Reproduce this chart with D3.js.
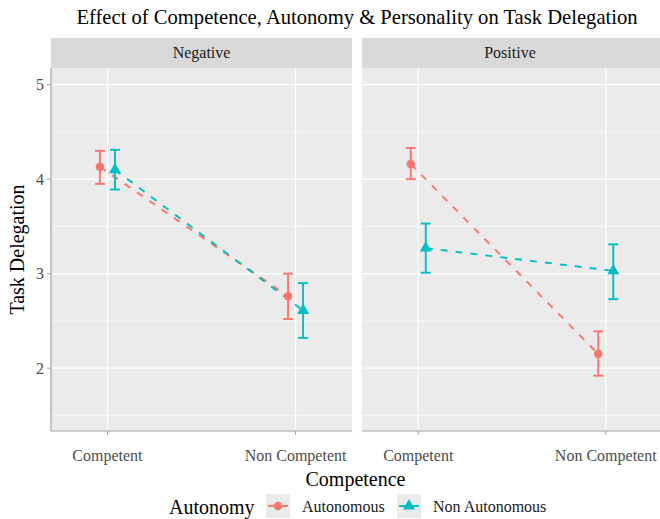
<!doctype html>
<html lang="en">
  <head>
    <meta charset="UTF-8">
    <title>Effect of Competence, Autonomy & Personality on Task Delegation</title>
    <style>
      body { margin: 0; background: #fff; }
      svg text { font-family: "Liberation Serif", "Times New Roman", serif; }
      .tick-label { fill: #4d4d4d; font-size: 16px; }
      .strip-label { fill: #1a1a1a; font-size: 16px; }
      .axis-title { fill: #000; font-size: 20px; }
    </style>
  </head>
  <body>
    <svg width="660" height="519"></svg>
    <script src="https://d3js.org/d3.v7.min.js"></script>
    <script>

      // data
      var personality = ["Negative", "Positive"];
      var competence = ["Competent", "Non Competent"];
      var autonomy = ["Autonomous", "Non Autonomous"];
      var yTicks = [2, 3, 4, 5];

      // means per panel, [Competent, Non Competent]
      var negAutonomous = [4.13, 2.76];
      var negNonAutonomous = [4.10, 2.61];
      var posAutonomous = [4.16, 2.15];
      var posNonAutonomous = [3.27, 3.03];

      // error bar limits [low, high]
      var negAutonomousErr = [[3.95, 4.30], [2.52, 3.00]];
      var negNonAutonomousErr = [[3.89, 4.31], [2.32, 2.90]];
      var posAutonomousErr = [[4.00, 4.33], [1.92, 2.39]];
      var posNonAutonomousErr = [[3.01, 3.53], [2.73, 3.31]];

      var rows = [];
      function addRows(panel, group, means, errs) {
        means.forEach(function (m, i) {
          rows.push({panel: panel, group: group, comp: competence[i], mean: m, lo: errs[i][0], hi: errs[i][1]});
        });
      }
      addRows("Negative", "Autonomous", negAutonomous, negAutonomousErr);
      addRows("Negative", "Non Autonomous", negNonAutonomous, negNonAutonomousErr);
      addRows("Positive", "Autonomous", posAutonomous, posAutonomousErr);
      addRows("Positive", "Non Autonomous", posNonAutonomous, posNonAutonomousErr);

      var svg = d3.select("svg");

      var color = d3.scaleOrdinal().domain(autonomy).range(["#F8766D", "#00BFC4"]);
      var shape = d3.scaleOrdinal().domain(autonomy).range([d3.symbolCircle, d3.symbolTriangle]);
      var symbolSize = {"Autonomous": 56, "Non Autonomous": 62};

      var panelTop = 68, panelBottom = 431, stripTop = 38;
      var panels = [
        {name: "Negative", x0: 51, x1: 352},
        {name: "Positive", x0: 362, x1: 662}
      ];

      var y = d3.scaleLinear().domain([1.335, 5.176]).range([panelBottom, panelTop]);
      var yMinor = [1.5, 2.5, 3.5, 4.5];

      svg.append("text")
              .attr("class", "axis-title")
              .attr("x", 357)
              .attr("y", 24)
              .attr("text-anchor", "middle")
              .style("font-size", "20.6px")
              .text("Effect of Competence, Autonomy & Personality on Task Delegation");

      panels.forEach(function (p, pi) {
        var x = d3.scalePoint().domain(competence).range([p.x0, p.x1]).padding(0.3);
        var step = x.step();
        var dodge = d3.scaleOrdinal().domain(autonomy).range([-0.04 * step, 0.04 * step]);
        var g = svg.append("g");

        // strip
        g.append("rect")
                .attr("x", p.x0).attr("y", stripTop)
                .attr("width", p.x1 - p.x0).attr("height", panelTop - stripTop)
                .attr("fill", "#d9d9d9");
        g.append("text")
                .attr("class", "strip-label")
                .attr("x", (p.x0 + Math.min(p.x1, 660)) / 2 - (pi ? 1 : 0))
                .attr("y", (stripTop + panelTop) / 2 + 5)
                .attr("text-anchor", "middle")
                .text(p.name);

        // panel background + grid
        g.append("rect")
                .attr("x", p.x0).attr("y", panelTop)
                .attr("width", p.x1 - p.x0).attr("height", panelBottom - panelTop)
                .attr("fill", "#ebebeb");
        g.selectAll("line.minor").data(yMinor).enter().append("line")
                .attr("x1", p.x0).attr("x2", p.x1)
                .attr("y1", function (d) { return y(d); })
                .attr("y2", function (d) { return y(d); })
                .attr("stroke", "#fff").attr("stroke-width", 0.6);
        g.selectAll("line.major").data(yTicks).enter().append("line")
                .attr("x1", p.x0).attr("x2", p.x1)
                .attr("y1", function (d) { return y(d); })
                .attr("y2", function (d) { return y(d); })
                .attr("stroke", "#fff").attr("stroke-width", 1.2);
        g.selectAll("line.vmajor").data(competence).enter().append("line")
                .attr("x1", function (d) { return x(d); })
                .attr("x2", function (d) { return x(d); })
                .attr("y1", panelTop).attr("y2", panelBottom)
                .attr("stroke", "#fff").attr("stroke-width", 1.2);

        // bottom axis line, ticks, labels
        g.append("line")
                .attr("x1", p.x0).attr("x2", p.x1)
                .attr("y1", panelBottom).attr("y2", panelBottom)
                .attr("stroke", "#a3a3a3").attr("stroke-width", 1.2);
        g.selectAll("line.xtick").data(competence).enter().append("line")
                .attr("x1", function (d) { return x(d); })
                .attr("x2", function (d) { return x(d); })
                .attr("y1", panelBottom).attr("y2", panelBottom + 4)
                .attr("stroke", "#a3a3a3").attr("stroke-width", 1);
        g.selectAll("text.xlab").data(competence).enter().append("text")
                .attr("class", "tick-label")
                .attr("x", function (d) { return x(d); })
                .attr("y", 461)
                .attr("text-anchor", "middle")
                .text(function (d) { return d; });

        if (pi === 0) {
          g.append("line")
                  .attr("x1", p.x0).attr("x2", p.x0)
                  .attr("y1", panelTop).attr("y2", panelBottom)
                  .attr("stroke", "#a3a3a3").attr("stroke-width", 1.2);
          g.selectAll("line.ytick").data(yTicks).enter().append("line")
                  .attr("x1", p.x0 - 4).attr("x2", p.x0)
                  .attr("y1", function (d) { return y(d); })
                  .attr("y2", function (d) { return y(d); })
                  .attr("stroke", "#a3a3a3").attr("stroke-width", 1);
          g.selectAll("text.ylab").data(yTicks).enter().append("text")
                  .attr("class", "tick-label")
                  .attr("x", p.x0 - 7)
                  .attr("y", function (d) { return y(d) + 5.5; })
                  .attr("text-anchor", "end")
                  .text(function (d) { return d; });
        }

        var data = rows.filter(function (r) { return r.panel === p.name; });
        var px = function (d) { return x(d.comp) + dodge(d.group); };

        // dashed lines
        var line = d3.line().x(px).y(function (d) { return y(d.mean); });
        autonomy.forEach(function (a) {
          g.append("path")
                  .datum(data.filter(function (d) { return d.group === a; }))
                  .attr("d", line)
                  .attr("fill", "none")
                  .attr("stroke", color(a))
                  .attr("stroke-width", 1.9)
                  .attr("stroke-dasharray", "7,8");
        });

        // error bars
        var eb = g.selectAll("g.eb").data(data).enter().append("g")
                .attr("stroke", function (d) { return color(d.group); })
                .attr("stroke-width", 1.9);
        eb.append("line")
                .attr("x1", px).attr("x2", px)
                .attr("y1", function (d) { return y(d.lo); })
                .attr("y2", function (d) { return y(d.hi); });
        ["lo", "hi"].forEach(function (k) {
          eb.append("line")
                  .attr("x1", function (d) { return px(d) - 5; })
                  .attr("x2", function (d) { return px(d) + 5; })
                  .attr("y1", function (d) { return y(d[k]); })
                  .attr("y2", function (d) { return y(d[k]); });
        });

        // points
        g.selectAll("path.pt").data(data).enter().append("path")
                .attr("d", function (d) { return d3.symbol().type(shape(d.group)).size(symbolSize[d.group])(); })
                .attr("transform", function (d) { return "translate(" + px(d) + "," + y(d.mean) + ")"; })
                .attr("fill", function (d) { return color(d.group); });
      });

      // axis titles
      svg.append("text")
              .attr("class", "axis-title")
              .attr("x", (51 + 660) / 2)
              .attr("y", 486)
              .attr("text-anchor", "middle")
              .text("Competence");
      svg.append("text")
              .attr("class", "axis-title")
              .attr("transform", "translate(24," + (panelTop + panelBottom) / 2 + ") rotate(-90)")
              .attr("text-anchor", "middle")
              .text("Task Delegation");

      // legend
      var legend = svg.append("g");
      legend.append("text")
              .attr("class", "axis-title")
              .attr("x", 169)
              .attr("y", 514)
              .text("Autonomy");
      var keyX = [266, 397];
      autonomy.forEach(function (a, i) {
        var k = legend.append("g").attr("transform", "translate(" + keyX[i] + ",494)");
        k.append("rect").attr("width", 24).attr("height", 24).attr("fill", "#ebebeb");
        k.append("line").attr("x1", 2).attr("x2", 22).attr("y1", 12).attr("y2", 12)
                .attr("stroke", color(a)).attr("stroke-width", 1.9);
        k.append("path")
                .attr("d", d3.symbol().type(shape(a)).size(symbolSize[a])())
                .attr("transform", "translate(12,12)")
                .attr("fill", color(a));
        k.append("text")
                .attr("class", "tick-label")
                .style("fill", "#1a1a1a")
                .attr("x", 36)
                .attr("y", 17.5)
                .text(a);
      });

    </script>
  </body>
</html>
